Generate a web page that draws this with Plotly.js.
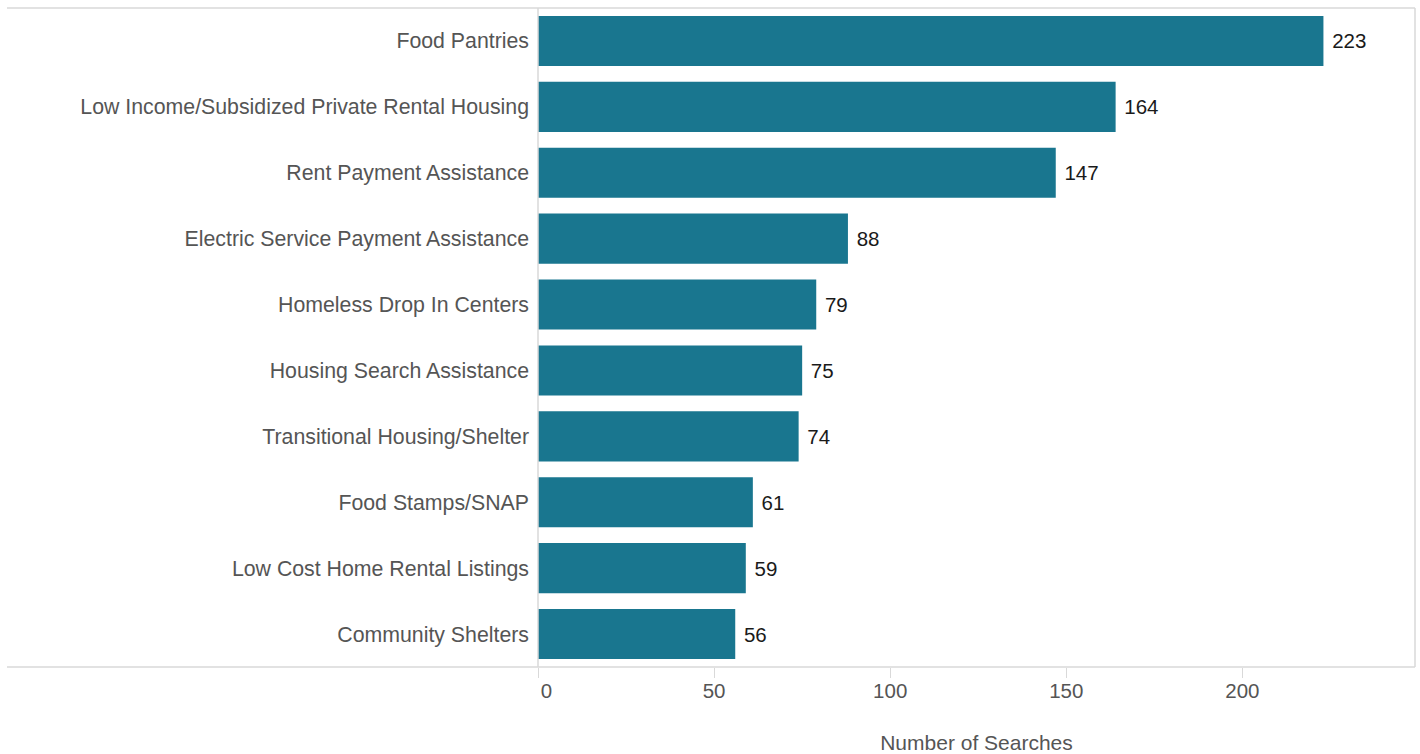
<!DOCTYPE html>
<html>
<head>
<meta charset="utf-8">
<script src="https://cdn.plot.ly/plotly-3.0.1.min.js"></script>
<style>html,body{margin:0;padding:0;background:#fff;}#chart{width:1420px;height:754px;}</style>
</head>
<body>
<div id="chart"></div>
<script>
const categories = [
  "Food Pantries",
  "Low Income/Subsidized Private Rental Housing",
  "Rent Payment Assistance",
  "Electric Service Payment Assistance",
  "Homeless Drop In Centers",
  "Housing Search Assistance",
  "Transitional Housing/Shelter",
  "Food Stamps/SNAP",
  "Low Cost Home Rental Listings",
  "Community Shelters"
];
const searches = [223, 164, 147, 88, 79, 75, 74, 61, 59, 56];
const xTickValues = [0, 50, 100, 150, 200];
const xTickLabels = ["\u00A0\u00A0\u00A00", "50", "100", "150", "200"];
const xTitle = "Number of Searches";

const FONT = "Helvetica Neue, Liberation Sans, Arial, sans-serif";
const lineColor = "#d9d9d9";
const leftEdge = (7 - 538) / 877;

const trace = {
  type: "bar",
  orientation: "h",
  x: searches,
  y: categories,
  marker: {color: "#19768f"},
  text: searches.map(v => "\u00A0" + v),
  textposition: "outside",
  textfont: {family: FONT, size: 20.5, color: "#1a1a1a"},
  cliponaxis: false,
  hoverinfo: "x+y"
};

const layout = {
  width: 1420,
  height: 754,
  margin: {l: 538, r: 5, t: 8, b: 87},
  paper_bgcolor: "#fff",
  plot_bgcolor: "#fff",
  bargap: 0.24,
  showlegend: false,
  font: {family: FONT, color: "#555"},
  xaxis: {
    range: [0, 249],
    tickvals: xTickValues,
    ticktext: xTickLabels,
    ticks: "outside",
    ticklen: 10,
    tickcolor: lineColor,
    ticklabelstandoff: -5,
    tickfont: {family: FONT, size: 20.5, color: "#555"},
    showgrid: false,
    zeroline: false,
    showline: false,
    title: {text: xTitle, font: {family: FONT, size: 21, color: "#555"}, standoff: 34},
    automargin: false
  },
  yaxis: {
    type: "category",
    autorange: "reversed",
    showgrid: false,
    zeroline: false,
    showline: false,
    ticks: "",
    ticklabelstandoff: 8,
    tickfont: {family: FONT, size: 21.3, color: "#555"},
    automargin: false
  },
  shapes: [
    {type: "line", xref: "paper", yref: "paper", x0: leftEdge, x1: 1, y0: 1, y1: 1, line: {color: lineColor, width: 1.5}},
    {type: "line", xref: "paper", yref: "paper", x0: leftEdge, x1: 1, y0: 0, y1: 0, line: {color: lineColor, width: 1.5}},
    {type: "line", xref: "paper", yref: "paper", x0: 1, x1: 1, y0: 0, y1: 1, line: {color: lineColor, width: 1.5}},
    {type: "line", xref: "paper", yref: "paper", x0: 0, x1: 0, y0: 0, y1: 1, line: {color: lineColor, width: 1.5}}
  ]
};

Plotly.newPlot("chart", [trace], layout, {displayModeBar: false, responsive: false});
</script>
</body>
</html>
